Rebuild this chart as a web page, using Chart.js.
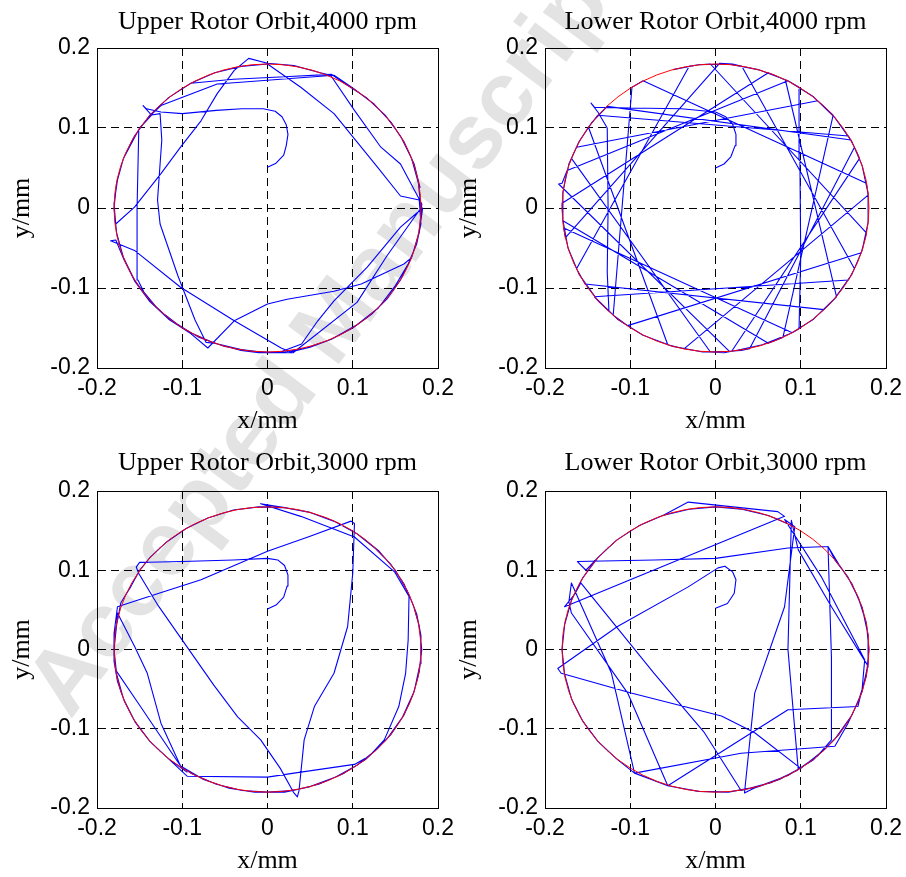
<!DOCTYPE html>
<html>
<head>
<meta charset="utf-8">
<script src="https://cdn.jsdelivr.net/npm/chart.js@4.4.0/dist/chart.umd.min.js"></script>
<style>
  html, body { margin: 0; padding: 0; background: #fff; }
  #page { position: relative; width: 906px; height: 877px; overflow: hidden; }
  #page canvas { position: absolute; left: 0; top: 0; }
</style>
</head>
<body>
<div id="page">
  <canvas id="mark" width="906" height="877"></canvas>
  <canvas id="c1" width="906" height="877"></canvas>
  <canvas id="c2" width="906" height="877"></canvas>
  <canvas id="c3" width="906" height="877"></canvas>
  <canvas id="c4" width="906" height="877"></canvas>
</div>
<script>
const titles = ['Upper Rotor Orbit,4000 rpm', 'Lower Rotor Orbit,4000 rpm', 'Upper Rotor Orbit,3000 rpm', 'Lower Rotor Orbit,3000 rpm'];
const xLabel = 'x/mm';
const yLabel = 'y/mm';
const tickValues = [-0.2, -0.1, 0, 0.1, 0.2];
const tickLabels = ['-0.2', '-0.1', '0', '0.1', '0.2'];
const circleRadius = [0.18, 0.18, 0.18, 0.18];
const watermarkText = 'Accepted Manuscript';

// orbit traces, [x, y] in mm
const upper4000 = [
  [0.000,0.051],[0.010,0.056],[0.019,0.066],[0.022,0.078],[0.024,0.092],[0.022,0.104],[0.017,0.114],[0.009,0.121],[-0.005,0.124],[-0.030,0.124],[-0.060,0.122],[-0.100,0.118],[-0.125,0.120],[-0.142,0.124],[-0.146,0.128],[-0.136,0.116],
  [-0.150,0.100],[-0.160,0.080],[-0.169,0.062],[-0.176,0.035],[-0.180,0.005],[-0.178,-0.020],
  [-0.156,0.001],[-0.125,0.043],[-0.102,0.076],[-0.078,0.109],[-0.059,0.143],[-0.039,0.172],[-0.022,0.187],
  [0.000,0.181],[0.031,0.178],[0.062,0.169],[0.074,0.166],
  [0.102,0.122],[0.133,0.076],[0.156,0.055],[0.181,0.005],
  [0.178,-0.030],[0.169,-0.062],
  [0.160,-0.070],[0.110,-0.095],[0.078,-0.104],[0.023,-0.114],[0.000,-0.120],[-0.039,-0.141],[-0.070,-0.175],
  [-0.090,-0.157],[-0.116,-0.139],[-0.138,-0.117],[-0.156,-0.091],[-0.169,-0.063],[-0.178,-0.040],[-0.184,-0.041],
  [-0.156,-0.053],[-0.102,-0.099],[-0.039,-0.141],[0.016,-0.175],[0.027,-0.180],
  [0.050,-0.174],[0.075,-0.164],[0.100,-0.150],[0.122,-0.133],[0.140,-0.114],[0.156,-0.090],[0.169,-0.062],[0.178,-0.031],[0.182,0.000],
  [0.156,-0.024],[0.117,-0.074],[0.078,-0.116],[0.059,-0.141],[0.040,-0.170],
  [0.015,-0.180],[-0.010,-0.181],[-0.031,-0.178],[-0.062,-0.169],[-0.090,-0.156],[-0.116,-0.138],[-0.138,-0.116],[-0.156,-0.090],[-0.169,-0.062],[-0.177,-0.031],[-0.180,0.000],[-0.177,0.031],[-0.169,0.062],[-0.156,0.090],[-0.138,0.116],[-0.116,0.138],[-0.090,0.156],
  [-0.040,0.161],[0.020,0.164],[0.075,0.167],
  [0.090,0.156],[0.116,0.138],[0.138,0.116],[0.156,0.090],[0.169,0.062],[0.177,0.031],[0.180,0.000],
  [0.140,-0.060],[0.105,-0.118],[0.030,-0.181],
  [0.000,-0.181],[-0.031,-0.177],[-0.062,-0.169],[-0.072,-0.168],
  [-0.085,-0.140],[-0.105,-0.085],[-0.126,-0.020],[-0.129,0.010],[-0.124,0.085],[-0.126,0.118],
  [-0.138,0.116],[-0.116,0.138],[-0.090,0.156],[-0.062,0.169],[-0.031,0.177],[0.000,0.180],
  [0.039,0.151],[0.078,0.118],[0.129,0.051],[0.156,0.015],[0.178,0.010],
  [0.180,-0.020],[0.175,-0.045],[0.165,-0.070],[0.150,-0.097],[0.130,-0.125],[0.105,-0.146],[0.075,-0.164],[0.045,-0.175],[0.015,-0.181],[-0.020,-0.179],[-0.050,-0.173],[-0.080,-0.162],[-0.105,-0.146],[-0.128,-0.127],[-0.145,-0.105],
  [-0.152,-0.090],[-0.153,0.000],[-0.151,0.098],
  [-0.140,0.113],[-0.125,0.128],
  [-0.059,0.155],[0.078,0.166],
  [0.100,0.150],[0.125,0.130],[0.145,0.107],[0.160,0.083],[0.172,0.055],[0.179,0.025]
];

const lower4000 = [
  [0.000,0.050],[0.010,0.055],[0.018,0.064],[0.023,0.078],[0.024,0.092],[0.020,0.105],[0.012,0.114],[0.000,0.120],[-0.040,0.124],[-0.100,0.125],[-0.142,0.126],[-0.146,0.131],[-0.138,0.120],
  [-0.127,0.100],[-0.126,0.000],[-0.127,-0.080],[-0.125,-0.129],
  [-0.136,-0.118],[-0.142,-0.111],
  [0.156,-0.090],[0.163,-0.076],
  [0.031,0.177],[0.020,0.180],[0.005,0.181],
  [-0.176,-0.037],[-0.178,-0.025],
  [0.090,-0.156],[0.098,-0.151],
  [0.100,-0.060],[0.099,0.060],[0.098,0.151],[0.085,0.159],
  [-0.174,0.047],[-0.180,0.031],[-0.184,0.030],
  [0.016,-0.179],[0.030,-0.178],[0.040,-0.176],
  [0.163,0.076],[0.156,0.090],
  [-0.138,0.116],[-0.149,0.101],
  [-0.056,-0.171],[-0.037,-0.176],
  [0.179,0.016],[0.177,0.031],
  [-0.085,0.159],[-0.098,0.151],
  [-0.120,-0.134],[-0.103,-0.147],
  [0.171,-0.056],[0.177,-0.031],
  [-0.006,0.180],[-0.020,0.179],[-0.031,0.177],
  [-0.163,-0.076],[-0.153,-0.095],
  [0.127,-0.127],[0.142,-0.111],
  [0.082,0.160],[0.062,0.169],
  [-0.180,0.006],[-0.179,-0.016],
  [0.062,-0.169],[0.079,-0.162],
  [0.138,0.116],[0.120,0.134],
  [-0.163,0.076],[-0.169,0.062],
  [-0.006,-0.180],[0.010,-0.181],[0.019,-0.179],
  [0.169,0.062],[0.159,0.085],
  [-0.127,0.127],
  [-0.145,0.107],[-0.160,0.083],[-0.172,0.055],[-0.179,0.020],[-0.179,-0.015],[-0.173,-0.050],[-0.160,-0.083],[-0.140,-0.113],[-0.115,-0.139],[-0.085,-0.159],[-0.050,-0.173],[-0.015,-0.180],[0.020,-0.179],[0.055,-0.171],[0.088,-0.157],[0.115,-0.139],[0.140,-0.113],[0.160,-0.083],[0.172,-0.053],[0.179,-0.018],[0.179,0.018],[0.172,0.053],[0.160,0.083],[0.140,0.113],[0.115,0.139],[0.085,0.159],[0.050,0.173],[0.015,0.180],[-0.020,0.179],[-0.050,0.173]
];

const upper3000 = [
  [0.000,0.051],[0.010,0.056],[0.019,0.066],[0.023,0.080],[0.024,0.094],[0.020,0.106],[0.012,0.113],[0.000,0.115],[-0.040,0.113],[-0.100,0.111],[-0.140,0.110],[-0.150,0.110],[-0.154,0.104],
  [-0.151,0.096],[-0.128,0.055],[-0.102,0.015],[-0.063,-0.045],[-0.035,-0.085],[-0.008,-0.114],[0.015,-0.150],[0.031,-0.181],[0.035,-0.186],[0.037,-0.178],
  [0.043,-0.114],[0.055,-0.072],[0.078,-0.030],[0.094,0.029],[0.100,0.096],[0.102,0.159],[0.098,0.162],
  [0.050,0.143],[0.000,0.124],[-0.078,0.088],[-0.130,0.070],[-0.176,0.054],
  [-0.180,0.020],[-0.180,-0.010],[-0.178,-0.026],
  [-0.149,-0.072],[-0.102,-0.147],
  [-0.090,-0.156],[-0.060,-0.170],[-0.030,-0.178],[0.000,-0.180],[0.030,-0.178],[0.060,-0.170],[0.090,-0.156],[0.115,-0.139],[0.140,-0.113],
  [0.158,-0.086],[0.172,-0.053],[0.179,-0.018],[0.180,0.018],[0.175,0.045],[0.164,0.074],[0.150,0.100],[0.130,0.125],[0.105,0.146],[0.078,0.162],[0.050,0.173],[0.020,0.179],[-0.008,0.184],
  [0.039,0.168],[0.102,0.142],[0.149,0.098],
  [0.166,0.067],[0.165,0.012],[0.162,-0.030],[0.154,-0.072],[0.137,-0.114],
  [0.120,-0.134],[0.102,-0.145],
  [0.031,-0.156],[0.000,-0.161],[-0.094,-0.160],
  [-0.116,-0.138],[-0.138,-0.116],[-0.156,-0.090],[-0.169,-0.062],[-0.177,-0.031],[-0.180,0.000],[-0.177,0.031],[-0.176,0.046],
  [-0.156,0.004],[-0.141,-0.030],[-0.125,-0.093],[-0.102,-0.147],
  [-0.075,-0.164],[-0.045,-0.175],[-0.015,-0.180],[0.020,-0.180],[0.050,-0.173],[0.080,-0.161],[0.105,-0.146],[0.127,-0.127],[0.145,-0.107],[0.160,-0.083],[0.171,-0.056],[0.178,-0.028],[0.181,0.000],[0.178,0.030],[0.171,0.056],[0.160,0.083],[0.145,0.107],[0.127,0.127],[0.105,0.146],[0.080,0.161],[0.050,0.173],[0.020,0.179],[-0.010,0.180],[-0.040,0.176],[-0.070,0.166],[-0.095,0.153],[-0.118,0.136],[-0.138,0.116],[-0.150,0.100],
  [-0.160,0.080],[-0.172,0.059],
  [-0.179,0.020],[-0.180,-0.015],[-0.176,-0.040],[-0.168,-0.065],[-0.155,-0.092],[-0.138,-0.116],[-0.116,-0.138],[-0.094,-0.155]
];

const lower3000 = [
  [0.000,0.052],[0.014,0.058],[0.022,0.071],[0.024,0.088],[0.020,0.098],[0.011,0.105],[0.003,0.103],
  [-0.032,0.079],[-0.115,0.029],[-0.185,-0.024],
  [-0.181,-0.030],[-0.099,-0.055],[0.007,-0.084],[0.046,-0.105],[0.100,-0.150],
  [0.127,-0.127],[0.145,-0.107],[0.160,-0.083],[0.171,-0.056],[0.179,-0.021],
  [0.136,0.054],[0.097,0.126],[0.089,0.163],
  [0.085,0.000],[0.097,-0.151],
  [0.075,-0.164],[0.045,-0.175],[0.034,-0.181],
  [0.046,-0.055],[0.081,0.054],[0.093,0.155],
  [0.081,0.164],
  [0.124,0.092],[0.175,-0.013],
  [0.172,-0.050],[0.167,-0.072],
  [0.085,-0.076],[-0.056,-0.172],
  [-0.080,-0.162],[-0.095,-0.156],
  [0.030,-0.131],[0.140,-0.122],
  [0.155,-0.094],[0.168,-0.064],[0.177,-0.033],[0.180,0.000],[0.177,0.033],[0.168,0.064],[0.155,0.092],[0.140,0.113],[0.132,0.130],
  [0.136,-0.010],[0.136,-0.114],
  [0.120,-0.134],[0.095,-0.153],[0.065,-0.168],[0.030,-0.178],
  [-0.013,-0.105],[-0.072,-0.030],[-0.158,0.084],
  [-0.165,0.070],[-0.177,0.054],
  [0.081,0.168],
  [0.073,0.174],[-0.032,0.186],
  [-0.060,0.170],[-0.090,0.156],[-0.116,0.138],[-0.138,0.116],[-0.152,0.100],[-0.162,0.111],
  [-0.072,0.113],[0.000,0.115],[0.085,0.128],[0.132,0.130],
  [0.145,0.107],[0.160,0.083],[0.172,0.053],[0.179,0.018],[0.179,-0.018],[0.172,-0.053],[0.160,-0.083],[0.140,-0.113],[0.115,-0.139],[0.085,-0.159],[0.050,-0.173],[0.015,-0.180],[-0.020,-0.179],[-0.056,-0.172],
  [-0.103,-0.055],[-0.169,0.046],
  [-0.172,0.060],[-0.169,0.084],
  [-0.122,-0.030],[-0.095,-0.156],
  [-0.116,-0.138],[-0.138,-0.116],[-0.156,-0.090],[-0.169,-0.062],[-0.177,-0.031],[-0.180,0.000],[-0.177,0.031],[-0.169,0.062],[-0.156,0.090],[-0.138,0.116],[-0.116,0.138],[-0.090,0.156],[-0.062,0.169],[-0.031,0.177],[0.000,0.180],[0.031,0.177],[0.062,0.169],[0.090,0.156]
];

const sansFont = '"Liberation Sans", Arial, sans-serif';
const serifFont = '"Liberation Serif", "Times New Roman", serif';
Chart.defaults.font.family = sansFont;
Chart.defaults.color = '#000';

// red reference circle, drawn through the chart's own scales
const refCircle = {
  id: 'refCircle',
  afterDatasetsDraw(chart, args, opts) {
    const {ctx, scales: {x, y}} = chart;
    const cx = x.getPixelForValue(0);
    const cy = y.getPixelForValue(0);
    const rx = x.getPixelForValue(opts.r) - cx;
    const ry = cy - y.getPixelForValue(opts.r);
    ctx.save();
    ctx.strokeStyle = opts.color;
    ctx.lineWidth = opts.width;
    ctx.beginPath();
    ctx.ellipse(cx, cy, rx, ry, 0, 0, Math.PI * 2);
    ctx.stroke();
    ctx.restore();
  }
};

function gridDash(c) {
  if (c.tick && Math.abs(c.tick.value) < 0.15) return [8, 5];
  return [];
}

function makeChart(id, points, title, r, box) {
  return new Chart(document.getElementById(id), {
    type: 'scatter',
    data: {
      datasets: [{
        data: points.map(p => ({x: p[0], y: p[1]})),
        showLine: true,
        borderColor: '#0000ff',
        borderWidth: 1.1,
        borderJoinStyle: 'round',
        pointRadius: 0,
        tension: 0,
        fill: false
      }]
    },
    options: {
      responsive: false,
      animation: false,
      events: [],
      layout: { padding: box.pad },
      plugins: {
        legend: { display: false },
        tooltip: { enabled: false },
        title: {
          display: true,
          text: title,
          fullSize: false,
          color: '#000',
          font: { family: serifFont, size: 26, weight: 'normal' },
          padding: { top: box.tt, bottom: box.tb }
        },
        refCircle: { r: r, color: '#ff0000', width: 1 }
      },
      scales: {
        x: {
          type: 'linear', position: 'bottom', min: -0.2, max: 0.2,
          afterBuildTicks: s => { s.ticks = tickValues.map(v => ({value: v})); },
          afterFit: s => { s.height = box.xh; s.paddingLeft = 0; s.paddingRight = 0; },
          ticks: { callback: (v, i) => tickLabels[i], font: { size: 23 }, color: '#000', padding: 7, maxRotation: 0, autoSkip: false },
          grid: { color: '#000', lineWidth: 1, drawTicks: false },
          border: { display: true, color: '#000', width: 1, dash: gridDash },
          title: { display: true, text: xLabel, color: '#000', font: { family: serifFont, size: 26, weight: 'normal' }, padding: { top: 0, bottom: box.xt } }
        },
        y: {
          type: 'linear', position: 'left', min: -0.2, max: 0.2,
          afterBuildTicks: s => { s.ticks = tickValues.map(v => ({value: v})); },
          afterFit: s => { s.width = box.yw; s.paddingTop = 0; s.paddingBottom = 0; },
          ticks: { callback: (v, i) => tickLabels[i], font: { size: 23 }, color: '#000', padding: 7, autoSkip: false },
          grid: { color: '#000', lineWidth: 1, drawTicks: false },
          border: { display: true, color: '#000', width: 1, dash: gridDash },
          title: { display: true, text: yLabel, color: '#000', font: { family: serifFont, size: 26, weight: 'normal' }, padding: { top: box.yt, bottom: 0 } }
        }
      }
    },
    plugins: [refCircle]
  });
}

// faint watermark behind the plots
const wm = document.getElementById('mark').getContext('2d');
wm.save();
wm.translate(50, 705);
wm.rotate(-53 * Math.PI / 180);
wm.font = 'bold 92px ' + sansFont;
wm.fillStyle = '#e3e3e3';
wm.textBaseline = 'middle';
wm.fillText(watermarkText, 0, 0);
wm.restore();

makeChart('c1', upper4000, titles[0], circleRadius[0],
  { pad: {left: 0, top: 0, right: 468, bottom: 437}, yw: 97, xh: 72, tt: 6.6, tb: 10.2, xt: 3.4, yt: 6.3 });
makeChart('c2', lower4000, titles[1], circleRadius[1],
  { pad: {left: 453, top: 0, right: 20, bottom: 437}, yw: 92, xh: 72, tt: 6.6, tb: 10.2, xt: 3.4, yt: 0.6 });
makeChart('c3', upper3000, titles[2], circleRadius[2],
  { pad: {left: 0, top: 440, right: 468, bottom: 0}, yw: 97, xh: 69, tt: 7.6, tb: 12.2, xt: 0.4, yt: 6.3 });
makeChart('c4', lower3000, titles[3], circleRadius[3],
  { pad: {left: 453, top: 440, right: 20, bottom: 0}, yw: 92, xh: 69, tt: 7.6, tb: 12.2, xt: 0.4, yt: 0.6 });
</script>
</body>
</html>
